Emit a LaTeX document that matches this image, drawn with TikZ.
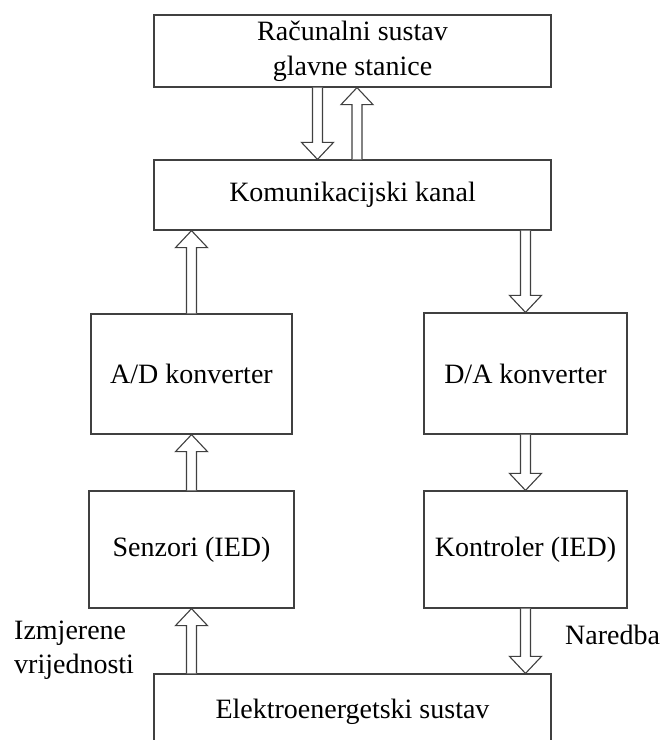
\documentclass[tikz,border=0pt]{standalone}
\usepackage{fontspec}
\setmainfont{Liberation Serif}
\usetikzlibrary{positioning,calc}

% hollow block arrow from #1 to #2 (vertical)
\newcommand{\hollowarrow}[2]{%
  \draw[hollow] let \p1=#1, \p2=#2, \p3=($#2!17pt!#1$) in
    (\x1-5pt,\y1) -- (\x1-5pt,\y3) -- (\x1-16pt,\y3) -- (\p2)
    -- (\x1+16pt,\y3) -- (\x1+5pt,\y3) -- (\x1+5pt,\y1);}

\begin{document}
\begin{tikzpicture}[x=1pt, y=-1pt]

\tikzstyle{block}=[rectangle, draw=black!75, line width=1.2pt, align=center, font=\fontsize{28}{35}\selectfont, inner sep=0pt]
\tikzstyle{hollow}=[draw=black!75, line width=1.1pt, fill=white]
\tikzstyle{note}=[align=left, anchor=west, font=\fontsize{28}{34}\selectfont, inner sep=0pt]

\useasboundingbox (0,0) rectangle (670,740);

% Blocks
\node[block, minimum width=397pt, minimum height=72pt] (top) at (352.5,51) {Računalni sustav\\glavne stanice};
\node[block, minimum width=397pt, minimum height=70pt] (comm) at (352.5,195) {Komunikacijski kanal};
\node[block, minimum width=201pt, minimum height=120pt] (ad) at (191.5,374) {A/D konverter};
\node[block, minimum width=203pt, minimum height=121pt] (da) at (525.5,373.5) {D/A konverter};
\node[block, minimum width=205pt, minimum height=117pt] (sen) at (191.5,549.5) {Senzori (IED)};
\node[block, minimum width=203pt, minimum height=117pt] (kon) at (525.5,549.5) {Kontroler (IED)};
\node[block, minimum width=397pt, minimum height=76pt] (el) at (352.5,712) {Elektroenergetski sustav};

% Arrows
\hollowarrow{([xshift=-35pt]top.south)}{([xshift=-35pt]comm.north)}
\hollowarrow{([xshift=4.5pt]comm.north)}{([xshift=4.5pt]top.south)}
\hollowarrow{(ad.north)}{(ad.north |- comm.south)}
\hollowarrow{(sen.north)}{(ad.south)}
\hollowarrow{(el.north -| sen.south)}{(sen.south)}
\hollowarrow{(comm.south -| da.north)}{(da.north)}
\hollowarrow{(da.south)}{(kon.north)}
\hollowarrow{(kon.south)}{(kon.south |- el.north)}

% Labels
\node[note] (meas) at (14,650) {Izmjerene\\vrijednosti};
\node[note] (cmd) at (565,635) {Naredba};

\end{tikzpicture}
\end{document}
